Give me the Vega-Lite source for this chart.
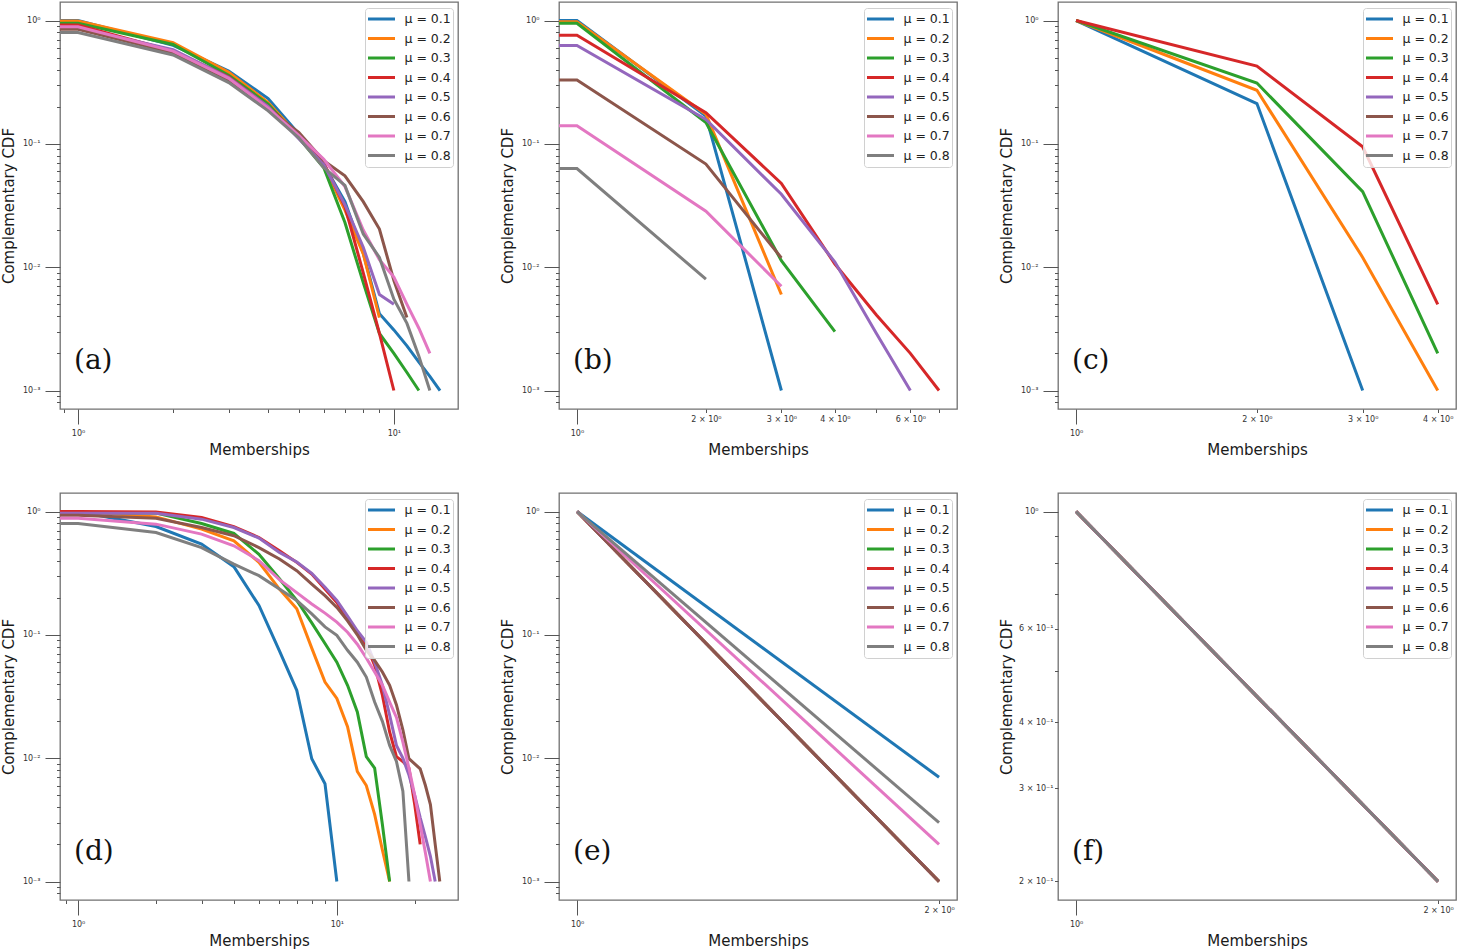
{
 "$schema": "https://vega.github.io/schema/vega-lite/v6.json",
 "padding": {"left": 0, "top": 1, "right": 0, "bottom": 0},
 "background": "white",
 "columns": 3,
 "align": "all",
 "spacing": {"row": 34, "column": 40},
 "datasets": {
  "a": [
   {"m":0.1,"x":0.5,"y":1},{"m":0.1,"x":1,"y":1},{"m":0.1,"x":2,"y":0.63},{"m":0.1,"x":3,"y":0.39},{"m":0.1,"x":4,"y":0.233},{"m":0.1,"x":5,"y":0.12},{"m":0.1,"x":6,"y":0.068},{"m":0.1,"x":7,"y":0.034},{"m":0.1,"x":8,"y":0.013},{"m":0.1,"x":9,"y":0.0042},{"m":0.1,"x":10,"y":0.0031},{"m":0.1,"x":11,"y":0.0023},{"m":0.1,"x":12,"y":0.0017},{"m":0.1,"x":13,"y":0.0013},{"m":0.1,"x":14,"y":0.001},
   {"m":0.2,"x":0.5,"y":0.99},{"m":0.2,"x":1,"y":0.99},{"m":0.2,"x":2,"y":0.66},{"m":0.2,"x":3,"y":0.38},{"m":0.2,"x":4,"y":0.216},{"m":0.2,"x":5,"y":0.115},{"m":0.2,"x":6,"y":0.066},{"m":0.2,"x":7,"y":0.029},{"m":0.2,"x":8,"y":0.0128},{"m":0.2,"x":9,"y":0.0039},
   {"m":0.3,"x":0.5,"y":0.95},{"m":0.3,"x":1,"y":0.95},{"m":0.3,"x":2,"y":0.64},{"m":0.3,"x":3,"y":0.36},{"m":0.3,"x":4,"y":0.21},{"m":0.3,"x":5,"y":0.112},{"m":0.3,"x":6,"y":0.064},{"m":0.3,"x":7,"y":0.023},{"m":0.3,"x":8,"y":0.0075},{"m":0.3,"x":9,"y":0.0029},{"m":0.3,"x":10,"y":0.002},{"m":0.3,"x":11,"y":0.0014},{"m":0.3,"x":12,"y":0.001},
   {"m":0.4,"x":0.5,"y":0.92},{"m":0.4,"x":1,"y":0.92},{"m":0.4,"x":2,"y":0.565},{"m":0.4,"x":3,"y":0.35},{"m":0.4,"x":4,"y":0.2},{"m":0.4,"x":5,"y":0.116},{"m":0.4,"x":6,"y":0.07},{"m":0.4,"x":7,"y":0.031},{"m":0.4,"x":8,"y":0.009},{"m":0.4,"x":9,"y":0.0029},{"m":0.4,"x":10,"y":0.001},
   {"m":0.5,"x":0.5,"y":0.87},{"m":0.5,"x":1,"y":0.87},{"m":0.5,"x":2,"y":0.58},{"m":0.5,"x":3,"y":0.345},{"m":0.5,"x":4,"y":0.2},{"m":0.5,"x":5,"y":0.11},{"m":0.5,"x":6,"y":0.068},{"m":0.5,"x":7,"y":0.032},{"m":0.5,"x":8,"y":0.0145},{"m":0.5,"x":9,"y":0.006},{"m":0.5,"x":10,"y":0.005},
   {"m":0.6,"x":0.5,"y":0.85},{"m":0.6,"x":1,"y":0.85},{"m":0.6,"x":2,"y":0.548},{"m":0.6,"x":3,"y":0.327},{"m":0.6,"x":4,"y":0.19},{"m":0.6,"x":5,"y":0.124},{"m":0.6,"x":6,"y":0.073},{"m":0.6,"x":7,"y":0.055},{"m":0.6,"x":8,"y":0.034},{"m":0.6,"x":9,"y":0.0204},{"m":0.6,"x":10,"y":0.0078},{"m":0.6,"x":11,"y":0.0039},
   {"m":0.7,"x":0.5,"y":0.89},{"m":0.7,"x":1,"y":0.89},{"m":0.7,"x":2,"y":0.565},{"m":0.7,"x":3,"y":0.34},{"m":0.7,"x":4,"y":0.195},{"m":0.7,"x":5,"y":0.117},{"m":0.7,"x":6,"y":0.075},{"m":0.7,"x":7,"y":0.045},{"m":0.7,"x":8,"y":0.02},{"m":0.7,"x":9,"y":0.0115},{"m":0.7,"x":10,"y":0.0083},{"m":0.7,"x":11,"y":0.005},{"m":0.7,"x":12,"y":0.0032},{"m":0.7,"x":13,"y":0.002},
   {"m":0.8,"x":0.5,"y":0.8},{"m":0.8,"x":1,"y":0.8},{"m":0.8,"x":2,"y":0.525},{"m":0.8,"x":3,"y":0.314},{"m":0.8,"x":4,"y":0.185},{"m":0.8,"x":5,"y":0.112},{"m":0.8,"x":6,"y":0.064},{"m":0.8,"x":7,"y":0.046},{"m":0.8,"x":8,"y":0.0186},{"m":0.8,"x":9,"y":0.012},{"m":0.8,"x":10,"y":0.0055},{"m":0.8,"x":11,"y":0.0035},{"m":0.8,"x":12,"y":0.0019},{"m":0.8,"x":13,"y":0.001}
  ],
  "b": [
   {"m":0.1,"x":0.5,"y":1},{"m":0.1,"x":1,"y":1},{"m":0.1,"x":2,"y":0.168},{"m":0.1,"x":3,"y":0.001},
   {"m":0.2,"x":0.5,"y":0.975},{"m":0.2,"x":1,"y":0.975},{"m":0.2,"x":2,"y":0.174},{"m":0.2,"x":3,"y":0.006},
   {"m":0.3,"x":0.5,"y":0.95},{"m":0.3,"x":1,"y":0.95},{"m":0.3,"x":2,"y":0.149},{"m":0.3,"x":3,"y":0.0113},{"m":0.3,"x":4,"y":0.003},
   {"m":0.4,"x":0.5,"y":0.76},{"m":0.4,"x":1,"y":0.76},{"m":0.4,"x":2,"y":0.179},{"m":0.4,"x":3,"y":0.0478},{"m":0.4,"x":4,"y":0.0106},{"m":0.4,"x":5,"y":0.0041},{"m":0.4,"x":6,"y":0.002},{"m":0.4,"x":7,"y":0.001},
   {"m":0.5,"x":0.5,"y":0.628},{"m":0.5,"x":1,"y":0.628},{"m":0.5,"x":2,"y":0.158},{"m":0.5,"x":3,"y":0.039},{"m":0.5,"x":4,"y":0.011},{"m":0.5,"x":5,"y":0.0029},{"m":0.5,"x":6,"y":0.001},
   {"m":0.6,"x":0.5,"y":0.329},{"m":0.6,"x":1,"y":0.329},{"m":0.6,"x":2,"y":0.0685},{"m":0.6,"x":3,"y":0.0119},
   {"m":0.7,"x":0.5,"y":0.14},{"m":0.7,"x":1,"y":0.14},{"m":0.7,"x":2,"y":0.0284},{"m":0.7,"x":3,"y":0.007},
   {"m":0.8,"x":0.5,"y":0.063},{"m":0.8,"x":1,"y":0.063},{"m":0.8,"x":2,"y":0.008}
  ],
  "c": [
   {"m":0.1,"x":1,"y":1},{"m":0.1,"x":2,"y":0.212},{"m":0.1,"x":3,"y":0.001},
   {"m":0.2,"x":1,"y":1},{"m":0.2,"x":2,"y":0.272},{"m":0.2,"x":3,"y":0.012},{"m":0.2,"x":4,"y":0.001},
   {"m":0.3,"x":1,"y":1},{"m":0.3,"x":2,"y":0.311},{"m":0.3,"x":3,"y":0.041},{"m":0.3,"x":4,"y":0.002},
   {"m":0.4,"x":1,"y":1},{"m":0.4,"x":2,"y":0.427},{"m":0.4,"x":3,"y":0.0946},{"m":0.4,"x":4,"y":0.005}
  ],
  "d": [
   {"m":0.1,"x":0.5,"y":1},{"m":0.1,"x":1,"y":1},{"m":0.1,"x":2,"y":0.756},{"m":0.1,"x":3,"y":0.544},{"m":0.1,"x":4,"y":0.357},{"m":0.1,"x":5,"y":0.173},{"m":0.1,"x":6,"y":0.074},{"m":0.1,"x":7,"y":0.0355},{"m":0.1,"x":8,"y":0.0099},{"m":0.1,"x":9,"y":0.0062},{"m":0.1,"x":10,"y":0.001},
   {"m":0.2,"x":0.5,"y":1},{"m":0.2,"x":1,"y":1},{"m":0.2,"x":2,"y":0.905},{"m":0.2,"x":3,"y":0.72},{"m":0.2,"x":4,"y":0.579},{"m":0.2,"x":5,"y":0.387},{"m":0.2,"x":6,"y":0.235},{"m":0.2,"x":7,"y":0.163},{"m":0.2,"x":8,"y":0.078},{"m":0.2,"x":9,"y":0.0414},{"m":0.2,"x":10,"y":0.0305},{"m":0.2,"x":11,"y":0.018},{"m":0.2,"x":12,"y":0.0078},{"m":0.2,"x":13,"y":0.006},{"m":0.2,"x":14,"y":0.0035},{"m":0.2,"x":15,"y":0.0018},{"m":0.2,"x":16,"y":0.001},
   {"m":0.3,"x":0.5,"y":0.98},{"m":0.3,"x":1,"y":0.98},{"m":0.3,"x":2,"y":0.97},{"m":0.3,"x":3,"y":0.8},{"m":0.3,"x":4,"y":0.664},{"m":0.3,"x":5,"y":0.45},{"m":0.3,"x":6,"y":0.285},{"m":0.3,"x":7,"y":0.19},{"m":0.3,"x":8,"y":0.125},{"m":0.3,"x":9,"y":0.085},{"m":0.3,"x":10,"y":0.06},{"m":0.3,"x":11,"y":0.039},{"m":0.3,"x":12,"y":0.0237},{"m":0.3,"x":13,"y":0.0103},{"m":0.3,"x":14,"y":0.0083},{"m":0.3,"x":15,"y":0.0029},{"m":0.3,"x":16,"y":0.001},
   {"m":0.4,"x":0.5,"y":1},{"m":0.4,"x":1,"y":1},{"m":0.4,"x":2,"y":0.99},{"m":0.4,"x":3,"y":0.894},{"m":0.4,"x":4,"y":0.752},{"m":0.4,"x":5,"y":0.616},{"m":0.4,"x":6,"y":0.48},{"m":0.4,"x":7,"y":0.387},{"m":0.4,"x":8,"y":0.311},{"m":0.4,"x":9,"y":0.235},{"m":0.4,"x":10,"y":0.183},{"m":0.4,"x":11,"y":0.134},{"m":0.4,"x":12,"y":0.105},{"m":0.4,"x":13,"y":0.082},{"m":0.4,"x":14,"y":0.0566},{"m":0.4,"x":15,"y":0.0324},{"m":0.4,"x":16,"y":0.0163},{"m":0.4,"x":17,"y":0.0103},{"m":0.4,"x":18,"y":0.0094},{"m":0.4,"x":19,"y":0.0083},{"m":0.4,"x":20,"y":0.0042},{"m":0.4,"x":21,"y":0.002},
   {"m":0.5,"x":0.5,"y":0.97},{"m":0.5,"x":1,"y":0.97},{"m":0.5,"x":2,"y":0.97},{"m":0.5,"x":3,"y":0.867},{"m":0.5,"x":4,"y":0.742},{"m":0.5,"x":5,"y":0.609},{"m":0.5,"x":6,"y":0.466},{"m":0.5,"x":7,"y":0.39},{"m":0.5,"x":8,"y":0.315},{"m":0.5,"x":9,"y":0.243},{"m":0.5,"x":10,"y":0.19},{"m":0.5,"x":11,"y":0.142},{"m":0.5,"x":12,"y":0.108},{"m":0.5,"x":13,"y":0.087},{"m":0.5,"x":14,"y":0.06},{"m":0.5,"x":15,"y":0.039},{"m":0.5,"x":16,"y":0.0223},{"m":0.5,"x":17,"y":0.0127},{"m":0.5,"x":18,"y":0.01},{"m":0.5,"x":19,"y":0.0073},{"m":0.5,"x":20,"y":0.005},{"m":0.5,"x":21,"y":0.0033},{"m":0.5,"x":22,"y":0.0023},{"m":0.5,"x":23,"y":0.0016},{"m":0.5,"x":24,"y":0.001},
   {"m":0.6,"x":0.5,"y":0.934},{"m":0.6,"x":1,"y":0.934},{"m":0.6,"x":2,"y":0.88},{"m":0.6,"x":3,"y":0.742},{"m":0.6,"x":4,"y":0.636},{"m":0.6,"x":5,"y":0.51},{"m":0.6,"x":6,"y":0.412},{"m":0.6,"x":7,"y":0.331},{"m":0.6,"x":8,"y":0.258},{"m":0.6,"x":9,"y":0.208},{"m":0.6,"x":10,"y":0.167},{"m":0.6,"x":11,"y":0.13},{"m":0.6,"x":12,"y":0.1},{"m":0.6,"x":13,"y":0.075},{"m":0.6,"x":14,"y":0.062},{"m":0.6,"x":15,"y":0.05},{"m":0.6,"x":16,"y":0.039},{"m":0.6,"x":17,"y":0.027},{"m":0.6,"x":18,"y":0.017},{"m":0.6,"x":19,"y":0.0099},{"m":0.6,"x":20,"y":0.009},{"m":0.6,"x":21,"y":0.0082},{"m":0.6,"x":22,"y":0.006},{"m":0.6,"x":23,"y":0.0042},{"m":0.6,"x":24,"y":0.002},{"m":0.6,"x":25,"y":0.001},
   {"m":0.7,"x":0.5,"y":0.88},{"m":0.7,"x":1,"y":0.88},{"m":0.7,"x":2,"y":0.79},{"m":0.7,"x":3,"y":0.656},{"m":0.7,"x":4,"y":0.527},{"m":0.7,"x":5,"y":0.4},{"m":0.7,"x":6,"y":0.28},{"m":0.7,"x":7,"y":0.22},{"m":0.7,"x":8,"y":0.178},{"m":0.7,"x":9,"y":0.15},{"m":0.7,"x":10,"y":0.127},{"m":0.7,"x":11,"y":0.105},{"m":0.7,"x":12,"y":0.084},{"m":0.7,"x":13,"y":0.065},{"m":0.7,"x":14,"y":0.05},{"m":0.7,"x":15,"y":0.039},{"m":0.7,"x":16,"y":0.0285},{"m":0.7,"x":17,"y":0.0214},{"m":0.7,"x":18,"y":0.0135},{"m":0.7,"x":19,"y":0.0083},{"m":0.7,"x":20,"y":0.005},{"m":0.7,"x":21,"y":0.0029},{"m":0.7,"x":22,"y":0.0017},{"m":0.7,"x":23,"y":0.001},
   {"m":0.8,"x":0.5,"y":0.8},{"m":0.8,"x":1,"y":0.8},{"m":0.8,"x":2,"y":0.676},{"m":0.8,"x":3,"y":0.51},{"m":0.8,"x":4,"y":0.375},{"m":0.8,"x":5,"y":0.302},{"m":0.8,"x":6,"y":0.235},{"m":0.8,"x":7,"y":0.19},{"m":0.8,"x":8,"y":0.148},{"m":0.8,"x":9,"y":0.116},{"m":0.8,"x":10,"y":0.099},{"m":0.8,"x":11,"y":0.075},{"m":0.8,"x":12,"y":0.06},{"m":0.8,"x":13,"y":0.0455},{"m":0.8,"x":14,"y":0.0285},{"m":0.8,"x":15,"y":0.0199},{"m":0.8,"x":16,"y":0.0127},{"m":0.8,"x":17,"y":0.0094},{"m":0.8,"x":18,"y":0.0054},{"m":0.8,"x":19,"y":0.001}
  ],
  "e": [
   {"m":0.1,"x":1,"y":1},{"m":0.1,"x":2,"y":0.007},
   {"m":0.2,"x":1,"y":1},{"m":0.2,"x":2,"y":0.001},
   {"m":0.3,"x":1,"y":1},{"m":0.3,"x":2,"y":0.001},
   {"m":0.4,"x":1,"y":1},{"m":0.4,"x":2,"y":0.001},
   {"m":0.5,"x":1,"y":1},{"m":0.5,"x":2,"y":0.001},
   {"m":0.6,"x":1,"y":1},{"m":0.6,"x":2,"y":0.001},
   {"m":0.7,"x":1,"y":1},{"m":0.7,"x":2,"y":0.002},
   {"m":0.8,"x":1,"y":1},{"m":0.8,"x":2,"y":0.003}
  ],
  "f": [
   {"m":0.1,"x":1,"y":1},{"m":0.1,"x":2,"y":0.2},
   {"m":0.2,"x":1,"y":1},{"m":0.2,"x":2,"y":0.2},
   {"m":0.3,"x":1,"y":1},{"m":0.3,"x":2,"y":0.2},
   {"m":0.4,"x":1,"y":1},{"m":0.4,"x":2,"y":0.2},
   {"m":0.5,"x":1,"y":1},{"m":0.5,"x":2,"y":0.2},
   {"m":0.6,"x":1,"y":1},{"m":0.6,"x":2,"y":0.2},
   {"m":0.7,"x":1,"y":1},{"m":0.7,"x":2,"y":0.2},
   {"m":0.8,"x":1,"y":1},{"m":0.8,"x":2,"y":0.2}
  ]
 },
 "concat": [
  {
   "width": 398, "height": 407,
   "data": {"name": "a"},
   "title": {"text": "(a)"},
   "mark": {"type": "line", "strokeWidth": 3, "clip": true},
   "encoding": {
    "x": {"field": "x", "type": "quantitative", "scale": {"type": "log", "domain": [0.877, 15.96], "nice": false},
     "axis": {"title": "Memberships", "values": [0.9,1,2,3,4,5,6,7,8,9,10],
      "labelExpr": "datum.value == 1 ? '10⁰' : datum.value == 10 ? '10¹' : ''",
      "tickSize": {"condition": {"test": "datum.value == 1 || datum.value == 10", "value": 15}, "value": 3.5},
      "labelPadding": {"condition": {"test": "datum.value == 1 || datum.value == 10", "value": 5}, "value": 3}}},
    "y": {"field": "y", "type": "quantitative", "scale": {"type": "log", "domain": [0.000708, 1.413], "nice": false},
     "axis": {"title": "Complementary CDF", "values": [0.0008,0.0009,0.001,0.002,0.003,0.004,0.005,0.006,0.007,0.008,0.009,0.01,0.02,0.03,0.04,0.05,0.06,0.07,0.08,0.09,0.1,0.2,0.3,0.4,0.5,0.6,0.7,0.8,0.9,1],
      "labelExpr": "datum.value == 1 ? '10⁰' : datum.value == 0.1 ? '10⁻¹' : datum.value == 0.01 ? '10⁻²' : datum.value == 0.001 ? '10⁻³' : ''",
      "tickSize": {"condition": {"test": "datum.value == 1 || datum.value == 0.1 || datum.value == 0.01 || datum.value == 0.001", "value": 15}, "value": 3.5},
      "labelPadding": {"condition": {"test": "datum.value == 1 || datum.value == 0.1 || datum.value == 0.01 || datum.value == 0.001", "value": 5}, "value": 1.5}}},
    "color": {"field": "m", "type": "nominal", "scale": {"domain": [0.1,0.2,0.3,0.4,0.5,0.6,0.7,0.8], "range": ["#1f77b4","#ff7f0e","#2ca02c","#d62728","#9467bd","#8c564b","#e377c2","#7f7f7f"]}, "legend": {"labelExpr": "'μ = ' + datum.label"}}
   }
  },
  {
   "width": 398, "height": 407,
   "data": {"name": "b"},
   "title": {"text": "(b)"},
   "mark": {"type": "line", "strokeWidth": 3, "clip": true},
   "encoding": {
    "x": {"field": "x", "type": "quantitative", "scale": {"type": "log", "domain": [0.908, 7.71], "nice": false},
     "axis": {"title": "Memberships", "values": [1,2,3,4,5,6,7],
      "labelExpr": "datum.value == 1 ? '10⁰' : datum.value == 2 ? '2 × 10⁰' : datum.value == 3 ? '3 × 10⁰' : datum.value == 4 ? '4 × 10⁰' : datum.value == 6 ? '6 × 10⁰' : ''",
      "tickSize": {"condition": {"test": "datum.value == 1", "value": 15}, "value": 3.5},
      "labelPadding": {"condition": {"test": "datum.value == 1", "value": 5}, "value": 3}}},
    "y": {"field": "y", "type": "quantitative", "scale": {"type": "log", "domain": [0.000708, 1.413], "nice": false},
     "axis": {"title": "Complementary CDF", "values": [0.0008,0.0009,0.001,0.002,0.003,0.004,0.005,0.006,0.007,0.008,0.009,0.01,0.02,0.03,0.04,0.05,0.06,0.07,0.08,0.09,0.1,0.2,0.3,0.4,0.5,0.6,0.7,0.8,0.9,1],
      "labelExpr": "datum.value == 1 ? '10⁰' : datum.value == 0.1 ? '10⁻¹' : datum.value == 0.01 ? '10⁻²' : datum.value == 0.001 ? '10⁻³' : ''",
      "tickSize": {"condition": {"test": "datum.value == 1 || datum.value == 0.1 || datum.value == 0.01 || datum.value == 0.001", "value": 15}, "value": 3.5},
      "labelPadding": {"condition": {"test": "datum.value == 1 || datum.value == 0.1 || datum.value == 0.01 || datum.value == 0.001", "value": 5}, "value": 1.5}}},
    "color": {"field": "m", "type": "nominal", "scale": {"domain": [0.1,0.2,0.3,0.4,0.5,0.6,0.7,0.8], "range": ["#1f77b4","#ff7f0e","#2ca02c","#d62728","#9467bd","#8c564b","#e377c2","#7f7f7f"]}, "legend": {"labelExpr": "'μ = ' + datum.label"}}
   }
  },
  {
   "width": 398, "height": 407,
   "data": {"name": "c"},
   "title": {"text": "(c)"},
   "mark": {"type": "line", "strokeWidth": 3, "clip": true},
   "encoding": {
    "x": {"field": "x", "type": "quantitative", "scale": {"type": "log", "domain": [0.933, 4.29], "nice": false},
     "axis": {"title": "Memberships", "values": [1,2,3,4],
      "labelExpr": "datum.value == 1 ? '10⁰' : datum.value == 2 ? '2 × 10⁰' : datum.value == 3 ? '3 × 10⁰' : datum.value == 4 ? '4 × 10⁰' : ''",
      "tickSize": {"condition": {"test": "datum.value == 1", "value": 15}, "value": 3.5},
      "labelPadding": {"condition": {"test": "datum.value == 1", "value": 5}, "value": 3}}},
    "y": {"field": "y", "type": "quantitative", "scale": {"type": "log", "domain": [0.000708, 1.413], "nice": false},
     "axis": {"title": "Complementary CDF", "values": [0.0008,0.0009,0.001,0.002,0.003,0.004,0.005,0.006,0.007,0.008,0.009,0.01,0.02,0.03,0.04,0.05,0.06,0.07,0.08,0.09,0.1,0.2,0.3,0.4,0.5,0.6,0.7,0.8,0.9,1],
      "labelExpr": "datum.value == 1 ? '10⁰' : datum.value == 0.1 ? '10⁻¹' : datum.value == 0.01 ? '10⁻²' : datum.value == 0.001 ? '10⁻³' : ''",
      "tickSize": {"condition": {"test": "datum.value == 1 || datum.value == 0.1 || datum.value == 0.01 || datum.value == 0.001", "value": 15}, "value": 3.5},
      "labelPadding": {"condition": {"test": "datum.value == 1 || datum.value == 0.1 || datum.value == 0.01 || datum.value == 0.001", "value": 5}, "value": 1.5}}},
    "color": {"field": "m", "type": "nominal", "scale": {"domain": [0.1,0.2,0.3,0.4,0.5,0.6,0.7,0.8], "range": ["#1f77b4","#ff7f0e","#2ca02c","#d62728","#9467bd","#8c564b","#e377c2","#7f7f7f"]}, "legend": {"labelExpr": "'μ = ' + datum.label"}}
   }
  },
  {
   "width": 398, "height": 407,
   "data": {"name": "d"},
   "title": {"text": "(d)"},
   "mark": {"type": "line", "strokeWidth": 3, "clip": true},
   "encoding": {
    "x": {"field": "x", "type": "quantitative", "scale": {"type": "log", "domain": [0.851, 29.4], "nice": false},
     "axis": {"title": "Memberships", "values": [0.9,1,2,3,4,5,6,7,8,9,10,20],
      "labelExpr": "datum.value == 1 ? '10⁰' : datum.value == 10 ? '10¹' : ''",
      "tickSize": {"condition": {"test": "datum.value == 1 || datum.value == 10", "value": 15}, "value": 3.5},
      "labelPadding": {"condition": {"test": "datum.value == 1 || datum.value == 10", "value": 5}, "value": 3}}},
    "y": {"field": "y", "type": "quantitative", "scale": {"type": "log", "domain": [0.000708, 1.413], "nice": false},
     "axis": {"title": "Complementary CDF", "values": [0.0008,0.0009,0.001,0.002,0.003,0.004,0.005,0.006,0.007,0.008,0.009,0.01,0.02,0.03,0.04,0.05,0.06,0.07,0.08,0.09,0.1,0.2,0.3,0.4,0.5,0.6,0.7,0.8,0.9,1],
      "labelExpr": "datum.value == 1 ? '10⁰' : datum.value == 0.1 ? '10⁻¹' : datum.value == 0.01 ? '10⁻²' : datum.value == 0.001 ? '10⁻³' : ''",
      "tickSize": {"condition": {"test": "datum.value == 1 || datum.value == 0.1 || datum.value == 0.01 || datum.value == 0.001", "value": 15}, "value": 3.5},
      "labelPadding": {"condition": {"test": "datum.value == 1 || datum.value == 0.1 || datum.value == 0.01 || datum.value == 0.001", "value": 5}, "value": 1.5}}},
    "color": {"field": "m", "type": "nominal", "scale": {"domain": [0.1,0.2,0.3,0.4,0.5,0.6,0.7,0.8], "range": ["#1f77b4","#ff7f0e","#2ca02c","#d62728","#9467bd","#8c564b","#e377c2","#7f7f7f"]}, "legend": {"labelExpr": "'μ = ' + datum.label"}}
   }
  },
  {
   "width": 398, "height": 407,
   "data": {"name": "e"},
   "title": {"text": "(e)"},
   "mark": {"type": "line", "strokeWidth": 3, "clip": true},
   "encoding": {
    "x": {"field": "x", "type": "quantitative", "scale": {"type": "log", "domain": [0.966, 2.07], "nice": false},
     "axis": {"title": "Memberships", "values": [1,2],
      "labelExpr": "datum.value == 1 ? '10⁰' : datum.value == 2 ? '2 × 10⁰' : ''",
      "tickSize": {"condition": {"test": "datum.value == 1", "value": 15}, "value": 3.5},
      "labelPadding": {"condition": {"test": "datum.value == 1", "value": 5}, "value": 3}}},
    "y": {"field": "y", "type": "quantitative", "scale": {"type": "log", "domain": [0.000708, 1.413], "nice": false},
     "axis": {"title": "Complementary CDF", "values": [0.0008,0.0009,0.001,0.002,0.003,0.004,0.005,0.006,0.007,0.008,0.009,0.01,0.02,0.03,0.04,0.05,0.06,0.07,0.08,0.09,0.1,0.2,0.3,0.4,0.5,0.6,0.7,0.8,0.9,1],
      "labelExpr": "datum.value == 1 ? '10⁰' : datum.value == 0.1 ? '10⁻¹' : datum.value == 0.01 ? '10⁻²' : datum.value == 0.001 ? '10⁻³' : ''",
      "tickSize": {"condition": {"test": "datum.value == 1 || datum.value == 0.1 || datum.value == 0.01 || datum.value == 0.001", "value": 15}, "value": 3.5},
      "labelPadding": {"condition": {"test": "datum.value == 1 || datum.value == 0.1 || datum.value == 0.01 || datum.value == 0.001", "value": 5}, "value": 1.5}}},
    "color": {"field": "m", "type": "nominal", "scale": {"domain": [0.1,0.2,0.3,0.4,0.5,0.6,0.7,0.8], "range": ["#1f77b4","#ff7f0e","#2ca02c","#d62728","#9467bd","#8c564b","#e377c2","#7f7f7f"]}, "legend": {"labelExpr": "'μ = ' + datum.label"}}
   }
  },
  {
   "width": 398, "height": 407,
   "data": {"name": "f"},
   "title": {"text": "(f)"},
   "mark": {"type": "line", "strokeWidth": 3, "clip": true},
   "encoding": {
    "x": {"field": "x", "type": "quantitative", "scale": {"type": "log", "domain": [0.966, 2.07], "nice": false},
     "axis": {"title": "Memberships", "values": [1,2],
      "labelExpr": "datum.value == 1 ? '10⁰' : datum.value == 2 ? '2 × 10⁰' : ''",
      "tickSize": {"condition": {"test": "datum.value == 1", "value": 15}, "value": 3.5},
      "labelPadding": {"condition": {"test": "datum.value == 1", "value": 5}, "value": 3}}},
    "y": {"field": "y", "type": "quantitative", "scale": {"type": "log", "domain": [0.1845, 1.084], "nice": false},
     "axis": {"title": "Complementary CDF", "values": [0.2,0.3,0.4,0.5,0.6,0.7,0.8,0.9,1],
      "labelExpr": "datum.value == 1 ? '10⁰' : datum.value == 0.6 ? '6 × 10⁻¹' : datum.value == 0.4 ? '4 × 10⁻¹' : datum.value == 0.3 ? '3 × 10⁻¹' : datum.value == 0.2 ? '2 × 10⁻¹' : ''",
      "tickSize": {"condition": {"test": "datum.value == 1", "value": 15}, "value": 3.5},
      "labelPadding": {"condition": {"test": "datum.value == 1", "value": 5}, "value": 1.5}}},
    "color": {"field": "m", "type": "nominal", "scale": {"domain": [0.1,0.2,0.3,0.4,0.5,0.6,0.7,0.8], "range": ["#1f77b4","#ff7f0e","#2ca02c","#d62728","#9467bd","#8c564b","#e377c2","#7f7f7f"]}, "legend": {"labelExpr": "'μ = ' + datum.label"}}
   }
  }
 ],
 "resolve": {"legend": {"color": "independent"}},
 "config": {
  "font": "DejaVu Sans",
  "view": {"stroke": "#707070", "strokeWidth": 1.3},
  "title": {"orient": "top", "anchor": "start", "frame": "group", "dx": 14, "dy": 377, "offset": 0, "baseline": "alphabetic", "font": "DejaVu Serif", "fontSize": 28, "fontWeight": "normal", "color": "#111"},
  "axis": {"domain": false, "grid": false, "tickColor": "#555", "tickWidth": 1, "labelFont": "DejaVu Sans", "labelFontSize": 8, "labelColor": "#333", "labelOverlap": false, "labelFlush": false, "labelBound": false, "titleFont": "DejaVu Sans", "titleFontSize": 15, "titleFontWeight": "normal", "titleColor": "#1a1a1a"},
  "axisY": {"titleX": -44, "titleY": 203.5, "titleBaseline": "bottom"},
  "axisX": {"titleY": 33, "titleBaseline": "top"},
  "legend": {"orient": "top-right", "offset": 5.5, "title": null, "symbolType": "stroke", "symbolSize": 729, "symbolStrokeWidth": 3, "labelFont": "DejaVu Sans", "labelFontSize": 12.5, "labelColor": "#222", "labelOffset": 8, "clipHeight": 19, "rowPadding": 0.5, "padding": 1.5, "strokeColor": "#d0d0d0", "fillColor": "rgba(255,255,255,0.8)", "cornerRadius": 3}
 }
}
